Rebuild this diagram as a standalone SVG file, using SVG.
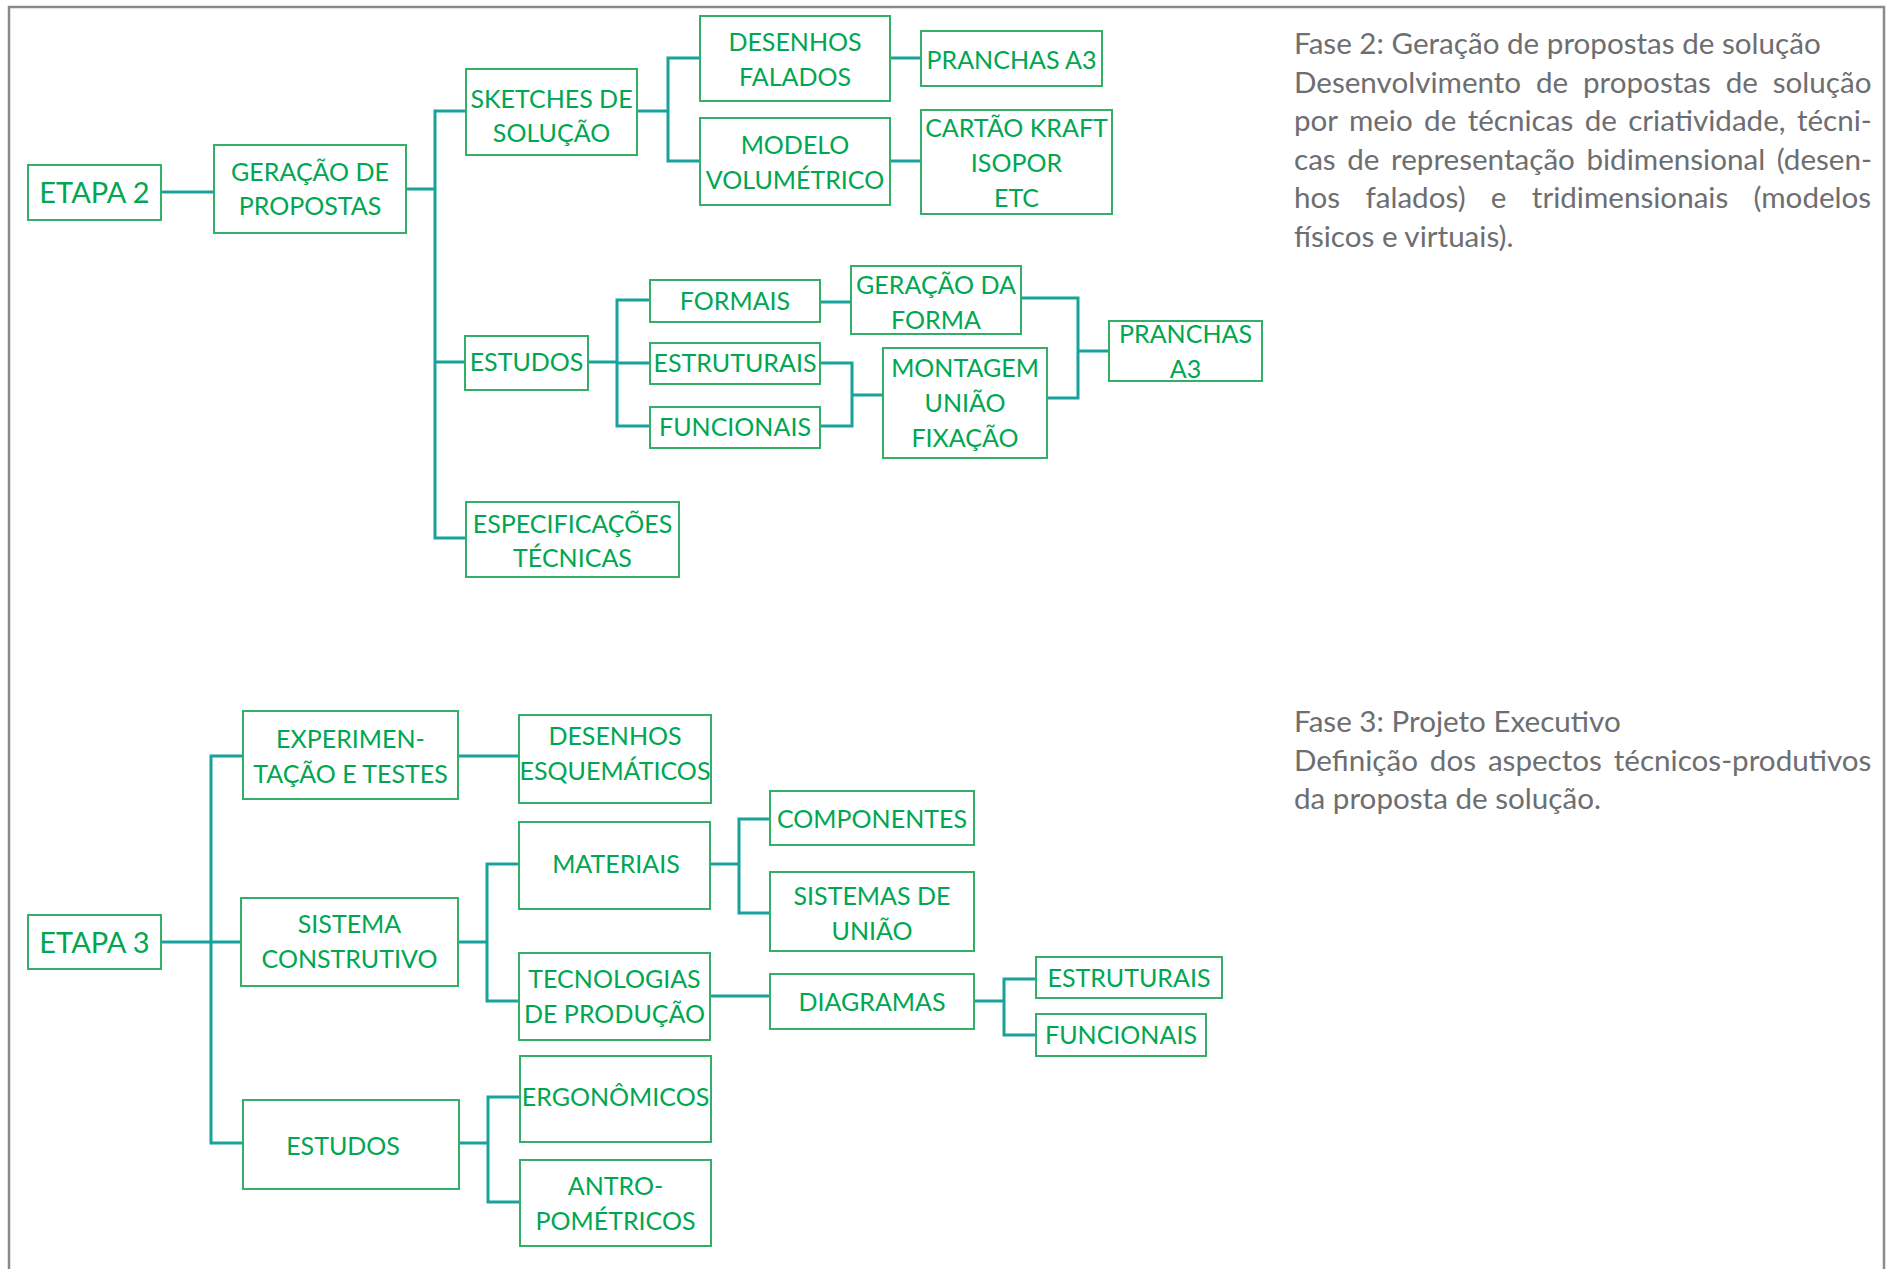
<svg xmlns="http://www.w3.org/2000/svg" width="1893" height="1269" viewBox="0 0 1893 1269">
<style>
.box{fill:#fff;stroke:#33b068;stroke-width:2}
.t{font-family:Lato,"Open Sans",sans-serif;font-size:25px;fill:#00a651;text-anchor:middle}
.big{font-size:29px}
.p{font-family:Lato,"Open Sans",sans-serif;font-size:29.6px;fill:#6d6e71}
.c{fill:none;stroke:#17a39b;stroke-width:3}
</style>
<rect width="1893" height="1269" fill="#fff"/>
<path d="M9,1269 V7 H1884 V1269" fill="none" stroke="#8a8a8a" stroke-width="2.5"/>
<g id="connectors" class="c">
<path d="M161,192 H214"/>
<path d="M406,189 H435 M466,111 H435 V538 H466 M435,362 H465"/>
<path d="M637,111 H668 M700,58 H668 V161 H700"/>
<path d="M890,58 H921 M890,161 H921"/>
<path d="M588,362 H617 M650,300 H617 V426 H650 M617,363 H650"/>
<path d="M820,302 H851"/>
<path d="M820,363 H852 V426 H820 M852,395 H883"/>
<path d="M1021,298 H1078 V398 H1047 M1078,351 H1109"/>
<path d="M161,942 H242 M243,756 H211 V1143 H243"/>
<path d="M458,756 H519"/>
<path d="M458,942 H487 M519,864 H487 V1001 H519"/>
<path d="M710,864 H739 M770,819 H739 V913 H770"/>
<path d="M710,996 H770"/>
<path d="M974,1001 H1004 M1036,979 H1004 V1035 H1036"/>
<path d="M459,1143 H488 M520,1097 H488 V1202 H520"/>
</g>
<g id="etapa2"><rect class="box" x="28" y="165" width="133" height="55"/><text class="t big" x="94.5" y="203">ETAPA 2</text></g>
<g id="geracao"><rect class="box" x="214" y="145" width="192" height="88"/><text class="t" x="310" y="181">GERAÇÃO DE</text><text class="t" x="310" y="215">PROPOSTAS</text></g>
<g id="sketches"><rect class="box" x="466" y="69" width="171" height="86"/><text class="t" x="551.5" y="108">SKETCHES DE</text><text class="t" x="551.5" y="142">SOLUÇÃO</text></g>
<g id="estudos2"><rect class="box" x="465" y="336" width="123" height="54"/><text class="t" x="526.5" y="371">ESTUDOS</text></g>
<g id="especificacoes"><rect class="box" x="466" y="502" width="213" height="75"/><text class="t" x="572.5" y="533">ESPECIFICAÇÕES</text><text class="t" x="572.5" y="567">TÉCNICAS</text></g>
<g id="desenhos-falados"><rect class="box" x="700" y="16" width="190" height="85"/><text class="t" x="795" y="51">DESENHOS</text><text class="t" x="795" y="86">FALADOS</text></g>
<g id="modelo"><rect class="box" x="700" y="118" width="190" height="87"/><text class="t" x="795" y="154">MODELO</text><text class="t" x="795" y="189">VOLUMÉTRICO</text></g>
<g id="pranchas1"><rect class="box" x="921" y="31" width="181" height="55"/><text class="t" x="1011.5" y="69">PRANCHAS A3</text></g>
<g id="cartao"><rect class="box" x="921" y="110" width="191" height="104"/><text class="t" x="1016.5" y="137">CARTÃO KRAFT</text><text class="t" x="1016.5" y="172">ISOPOR</text><text class="t" x="1016.5" y="207">ETC</text></g>
<g id="formais"><rect class="box" x="650" y="280" width="170" height="42"/><text class="t" x="735" y="310">FORMAIS</text></g>
<g id="estruturais2"><rect class="box" x="650" y="343" width="170" height="41"/><text class="t" x="735" y="372">ESTRUTURAIS</text></g>
<g id="funcionais2"><rect class="box" x="650" y="407" width="170" height="41"/><text class="t" x="735" y="436">FUNCIONAIS</text></g>
<g id="geracao-forma"><rect class="box" x="851" y="266" width="170" height="68"/><text class="t" x="936" y="294">GERAÇÃO DA</text><text class="t" x="936" y="329">FORMA</text></g>
<g id="montagem"><rect class="box" x="883" y="348" width="164" height="110"/><text class="t" x="965" y="377">MONTAGEM</text><text class="t" x="965" y="412">UNIÃO</text><text class="t" x="965" y="447">FIXAÇÃO</text></g>
<g id="pranchas2"><rect class="box" x="1109" y="321" width="153" height="60"/><text class="t" x="1185.5" y="343">PRANCHAS</text><text class="t" x="1185.5" y="378">A3</text></g>
<g id="etapa3"><rect class="box" x="28" y="915" width="133" height="54"/><text class="t big" x="94.5" y="953">ETAPA 3</text></g>
<g id="experimentacao"><rect class="box" x="243" y="711" width="215" height="88"/><text class="t" x="350.5" y="748">EXPERIMEN-</text><text class="t" x="350.5" y="783">TAÇÃO E TESTES</text></g>
<g id="sistema-construtivo"><rect class="box" x="241" y="898" width="217" height="88"/><text class="t" x="349.5" y="933">SISTEMA</text><text class="t" x="349.5" y="968">CONSTRUTIVO</text></g>
<g id="estudos3"><rect class="box" x="243" y="1100" width="216" height="89"/><text class="t" x="343" y="1155">ESTUDOS</text></g>
<g id="desenhos-esquematicos"><rect class="box" x="519" y="715" width="192" height="88"/><text class="t" x="615" y="745">DESENHOS</text><text class="t" x="615" y="780">ESQUEMÁTICOS</text></g>
<g id="materiais"><rect class="box" x="519" y="822" width="191" height="87"/><text class="t" x="616" y="873">MATERIAIS</text></g>
<g id="tecnologias"><rect class="box" x="519" y="953" width="191" height="87"/><text class="t" x="614.5" y="988">TECNOLOGIAS</text><text class="t" x="614.5" y="1023">DE PRODUÇÃO</text></g>
<g id="componentes"><rect class="box" x="770" y="791" width="204" height="54"/><text class="t" x="872" y="828">COMPONENTES</text></g>
<g id="sistemas-uniao"><rect class="box" x="770" y="872" width="204" height="79"/><text class="t" x="872" y="905">SISTEMAS DE</text><text class="t" x="872" y="940">UNIÃO</text></g>
<g id="diagramas"><rect class="box" x="770" y="974" width="204" height="55"/><text class="t" x="872" y="1011">DIAGRAMAS</text></g>
<g id="estruturais3"><rect class="box" x="1036" y="957" width="186" height="41"/><text class="t" x="1129" y="987">ESTRUTURAIS</text></g>
<g id="funcionais3"><rect class="box" x="1036" y="1014" width="170" height="42"/><text class="t" x="1121" y="1044">FUNCIONAIS</text></g>
<g id="ergonomicos"><rect class="box" x="520" y="1056" width="191" height="86"/><text class="t" x="615.5" y="1106">ERGONÔMICOS</text></g>
<g id="antropometricos"><rect class="box" x="520" y="1160" width="191" height="86"/><text class="t" x="615.5" y="1195">ANTRO-</text><text class="t" x="615.5" y="1230">POMÉTRICOS</text></g>
<g id="fase2-text">
<text class="p" x="1294" y="54">Fase 2: Geração de propostas de solução</text>
<text class="p" x="1294" y="93" style="word-spacing:7.25px">Desenvolvimento de propostas de solução</text>
<text class="p" x="1294" y="131" style="word-spacing:3.8px">por meio de técnicas de criatividade, técni-</text>
<text class="p" x="1294" y="170" style="word-spacing:4px">cas de representação bidimensional (desen-</text>
<text class="p" x="1294" y="208" style="word-spacing:17.75px">hos falados) e tridimensionais (modelos</text>
<text class="p" x="1294" y="247">físicos e virtuais).</text>
</g>
<g id="fase3-text">
<text class="p" x="1294" y="732">Fase 3: Projeto Executivo</text>
<text class="p" x="1294" y="771" style="word-spacing:4.3px">Definição dos aspectos técnicos-produtivos</text>
<text class="p" x="1294" y="809">da proposta de solução.</text>
</g>
</svg>
